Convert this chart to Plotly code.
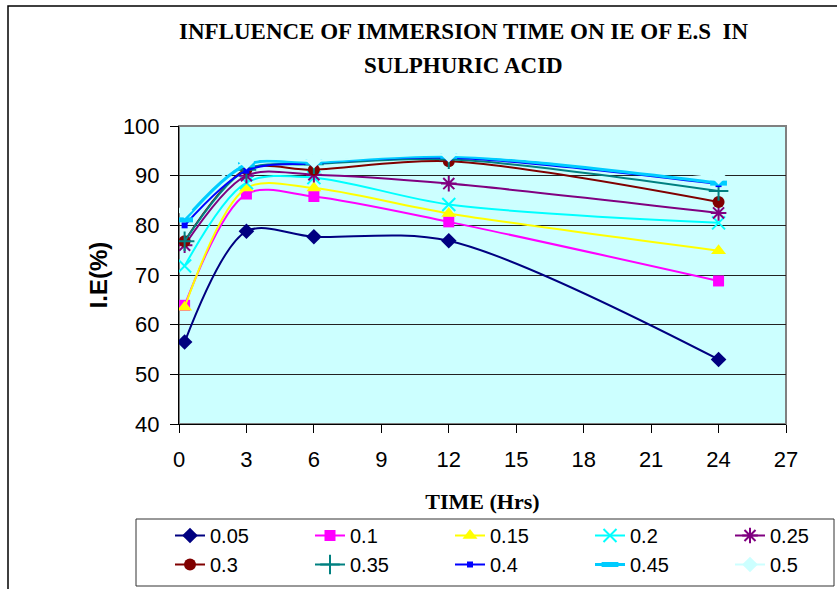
import plotly.graph_objects as go

time_hrs = [0.25, 3, 6, 12, 24]
series_names = ["0.05", "0.1", "0.15", "0.2", "0.25", "0.3", "0.35", "0.4", "0.45", "0.5"]
ie_005 = [56.5, 78.8, 77.7, 76.9, 53.0]
ie_010 = [63.9, 86.3, 85.8, 80.7, 68.8]
ie_015 = [63.5, 87.5, 87.5, 82.4, 74.9]
ie_020 = [71.8, 88.6, 89.6, 84.2, 80.5]
ie_025 = [76.0, 90.0, 90.2, 88.4, 82.5]
ie_030 = [76.8, 91.3, 91.2, 92.9, 84.7]
ie_035 = [76.8, 91.2, 92.3, 93.3, 86.9]
ie_040 = [80.0, 91.0, 92.5, 93.6, 88.3]
ie_045 = [81.1, 92.2, 92.7, 93.9, 88.5]
ie_050 = [83.0, 92.8, 93.0, 94.2, 89.8]
x_ticks = [0, 3, 6, 9, 12, 15, 18, 21, 24, 27]
y_ticks = [40, 50, 60, 70, 80, 90, 100]

all_series = [ie_005, ie_010, ie_015, ie_020, ie_025, ie_030, ie_035, ie_040, ie_045, ie_050]
colors = ["#000080", "#FF00FF", "#FFFF00", "#00FFFF", "#800080",
          "#800000", "#008080", "#0000FF", "#00CCFF", "#CCFFFF"]
symbols = ["diamond", "square", "triangle-up", "x-thin-open", "asterisk-open",
           "circle", "cross-thin-open", "square", "line-ew-open", "diamond"]
sizes = [12, 11, 13, 13, 13, 12, 14, 6, 12, 12]
widths = [2, 2, 2, 2, 2, 2, 2, 2, 3, 2]

fig = go.Figure()
for name, ys, c, s, sz, w in zip(series_names, all_series, colors, symbols, sizes, widths):
    marker = dict(symbol=s, size=sz, color=c)
    if s.endswith("open"):
        marker["line"] = dict(color=c, width=2 if s != "line-ew-open" else 5)
    fig.add_trace(go.Scatter(
        x=time_hrs, y=ys, name=name, mode="lines+markers",
        line=dict(color=c, width=w, shape="spline", smoothing=0.9),
        marker=marker,
    ))

FONT_SANS = "Liberation Sans, Arial, sans-serif"
FONT_SERIF = "Liberation Serif, Times New Roman, serif"

L, R, T, B = 179, 51, 126, 165
W, H = 837, 589
pw, ph = W - L - R, H - T - B

def px(x):
    return (x - L) / pw

def py(y):
    return (H - B - y) / ph

fig.update_layout(
    width=W, height=H,
    margin=dict(l=L, r=R, t=T, b=B, autoexpand=False),
    paper_bgcolor="white",
    plot_bgcolor="#CCFFFF",
    showlegend=True,
    legend=dict(
        orientation="h",
        x=px(170), y=py(516), xanchor="left", yanchor="top",
        entrywidth=95, entrywidthmode="pixels",
        font=dict(family=FONT_SANS, size=20, color="black"),
        bgcolor="rgba(0,0,0,0)", borderwidth=0,
        tracegroupgap=0, itemsizing="trace",
    ),
    xaxis=dict(
        range=[0, 27], tickvals=x_ticks, ticks="outside", ticklen=8,
        tickcolor="black", showline=True, linecolor="black", linewidth=1,
        showgrid=False, zeroline=False, automargin=False,
        tickfont=dict(family=FONT_SANS, size=22, color="black"),
        ticklabelstandoff=8,
        title=dict(text="<b>TIME (Hrs)</b>", font=dict(family=FONT_SERIF, size=22, color="black"),
                   standoff=22),
    ),
    yaxis=dict(
        range=[40, 100], tickvals=y_ticks, ticks="outside", ticklen=8,
        tickcolor="black", showline=True, linecolor="black", linewidth=1,
        showgrid=True, gridcolor="#222222", gridwidth=1, zeroline=False, automargin=False,
        tickfont=dict(family=FONT_SANS, size=22, color="black"),
        ticklabelstandoff=6,
        title=dict(text="<b>I.E(%)</b>", font=dict(family=FONT_SANS, size=24, color="black"),
                   standoff=8),
    ),
    annotations=[
        dict(text="<b>INFLUENCE OF IMMERSION TIME ON IE OF E.S  IN</b>", xref="paper", yref="paper",
             x=px(463), y=py(31), xanchor="center", yanchor="middle", showarrow=False,
             font=dict(family=FONT_SERIF, size=23, color="black")),
        dict(text="<b>SULPHURIC ACID</b>", xref="paper", yref="paper",
             x=px(463), y=py(65), xanchor="center", yanchor="middle", showarrow=False,
             font=dict(family=FONT_SERIF, size=23, color="black")),
    ],
    shapes=[
        dict(type="rect", xref="paper", yref="paper", x0=0, x1=1, y0=0, y1=1,
             line=dict(color="#808080", width=2), layer="below"),
        dict(type="rect", xref="paper", yref="paper", x0=px(136), x1=px(834), y0=py(586), y1=py(519),
             line=dict(color="#333333", width=1), fillcolor="white", layer="below"),
        dict(type="rect", xref="paper", yref="paper", x0=px(8), x1=px(845), y0=py(597), y1=py(6),
             line=dict(color="black", width=1.5), fillcolor="rgba(0,0,0,0)"),
    ],
)

fig.write_html("out.html")
